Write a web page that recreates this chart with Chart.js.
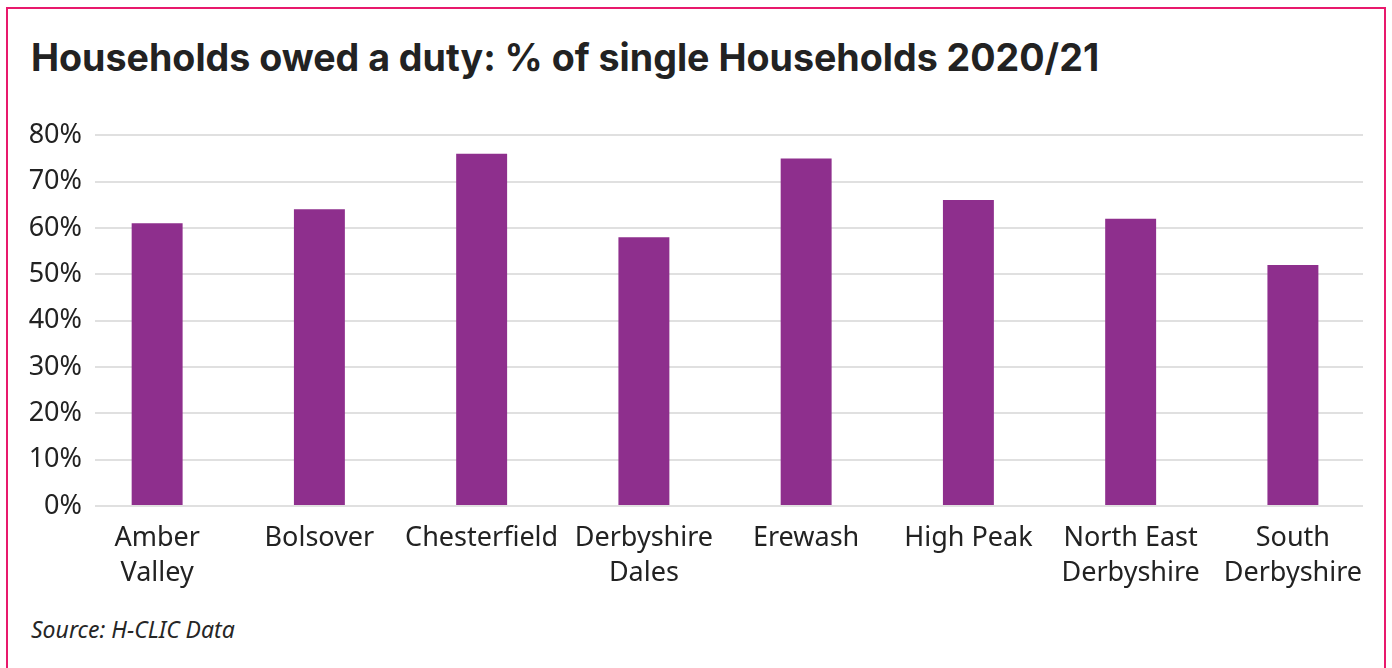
<!DOCTYPE html>
<html>
<head>
<meta charset="utf-8">
<script src="https://cdn.jsdelivr.net/npm/chart.js@4"></script>
<style>
  body { margin: 0; background: #fff; width: 1392px; height: 668px; overflow: hidden; position: relative; }
  #frame {
    position: absolute; left: 6px; top: 7px; width: 1376px; height: 700px;
    border: 2.5px solid #e8196c; border-bottom: none;
  }
  #title {
    position: absolute; left: 31px; top: 35px; margin: 0;
    font-family: Inter, sans-serif; font-weight: 700; font-size: 37.6px;
    color: #222; white-space: nowrap;
  }
  #source {
    position: absolute; left: 31px; top: 613px;
    font-family: "Noto Sans", sans-serif; font-style: italic; font-size: 23px; color: #262626;
  }
  #wrap { position: absolute; left: 0; top: 106px; width: 1392px; height: 500px; }
</style>
</head>
<body>
<div id="frame"></div>
<h1 id="title">Households owed a duty: % of single Households 2020/21</h1>
<div id="wrap"><canvas id="chart"></canvas></div>
<div id="source">Source: H-CLIC Data</div>
<script>
// Local authority areas
const areas = [
    ['Amber', 'Valley'],
    'Bolsover',
    'Chesterfield',
    ['Derbyshire', 'Dales'],
    'Erewash',
    'High Peak',
    ['North East', 'Derbyshire'],
    ['South', 'Derbyshire']
];
// % of single households owed a duty
const singleShare = [61, 64, 76, 58, 75, 66, 62, 52];
const yTicks = [0, 10, 20, 30, 40, 50, 60, 70, 80];

// index-based x so the category bands can run a little past the gridlines
const points = singleShare.map((v, i) => ({ x: i, y: v }));

const ctx = document.getElementById('chart').getContext('2d');
new Chart(ctx, {
    type: 'bar',
    data: {
        datasets: [{
            data: points,
            backgroundColor: '#8e2f8d',
            barPercentage: 0.314,
            categoryPercentage: 1
        }]
    },
    options: {
        responsive: true,
        maintainAspectRatio: false,
        animation: false,
        layout: { padding: { top: 20, right: 29, left: 0, bottom: 0 } },
        plugins: { legend: { display: false }, tooltip: { enabled: false } },
        scales: {
            x: {
                type: 'linear',
                min: -0.383,
                max: 7.432,
                offset: false,
                afterBuildTicks: scale => { scale.ticks = areas.map((a, i) => ({ value: i })); },
                grid: { display: false, drawTicks: false },
                border: { display: false },
                ticks: {
                    color: '#222',
                    font: { family: 'Noto Sans', size: 27, lineHeight: 1.32 },
                    padding: 14,
                    maxRotation: 0,
                    autoSkip: false,
                    callback: v => areas[v]
                },
                afterFit: scale => { scale.height = 100; }
            },
            y: {
                min: 0,
                max: 80,
                afterBuildTicks: scale => { scale.ticks = yTicks.map(v => ({ value: v })); },
                grid: { color: '#e0e0e0', lineWidth: 2, drawTicks: false },
                border: { display: false },
                ticks: {
                    color: '#222',
                    font: { family: 'Noto Sans', size: 27 },
                    padding: 13,
                    callback: v => v + '%'
                },
                afterFit: scale => { scale.width = 95; }
            }
        }
    }
});
</script>
</body>
</html>
